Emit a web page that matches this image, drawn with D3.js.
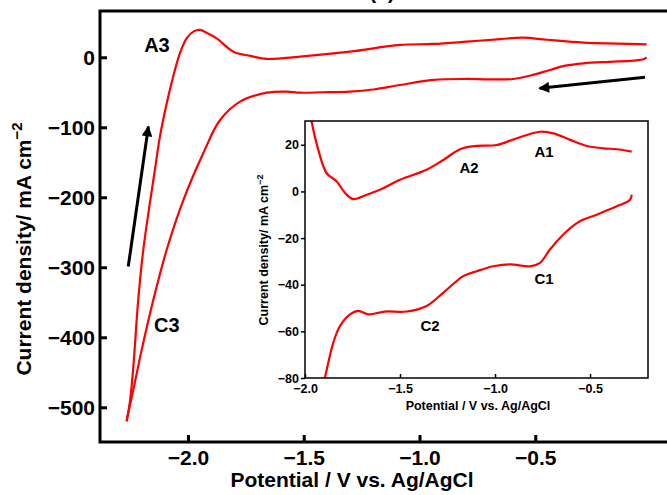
<!DOCTYPE html>
<html>
<head>
<meta charset="utf-8">
<script src="https://cdn.jsdelivr.net/npm/d3@7.9.0/dist/d3.min.js"></script>
<style>
  html, body { margin: 0; padding: 0; background: #fff; }
  svg { display: block; font-family: "Liberation Sans", Arial, sans-serif; font-weight: bold; }
</style>
</head>
<body>
<svg id="chart" width="667" height="495"></svg>
<script>
// main CV loop: cathodic sweep (lower branch) then anodic sweep (upper branch)
const mainCathodicV = [-0.019, -0.03, -0.076, -0.18, -0.292, -0.37, -0.436, -0.52, -0.595, -0.7, -0.796, -0.94, -1.084, -1.2, -1.3, -1.42, -1.516, -1.574, -1.66, -1.775, -1.862, -1.934, -2.02, -2.092, -2.15, -2.2, -2.236, -2.258, -2.265];
const mainCathodicJ = [0, -2.5, -4.9, -6.5, -8.6, -12, -18.1, -26, -31, -31.5, -31, -32.4, -39.6, -46, -49, -50, -50.6, -49, -50.6, -63.4, -90, -137, -204, -275, -347, -418, -475, -508, -520];
const mainAnodicV = [-2.265, -2.25, -2.236, -2.215, -2.193, -2.143, -2.121, -2.092, -2.064, -2.035, -2.006, -1.975, -1.948, -1.92, -1.876, -1.804, -1.73, -1.66, -1.516, -1.3, -1.084, -0.94, -0.796, -0.65, -0.552, -0.45, -0.292, -0.15, -0.019];
const mainAnodicJ = [-520, -490, -442, -347, -275, -161, -113, -66, -27.7, 5.7, 27, 37, 39, 35, 27, 8, 2, -2.4, 0.9, 8, 17.6, 19, 22.3, 26, 28, 25, 20.9, 19.5, 18.5];

// inset (zoom of the same loop)
const insetAnodicV = [-1.975, -1.965, -1.93, -1.886, -1.833, -1.789, -1.746, -1.675, -1.588, -1.5, -1.36, -1.272, -1.184, -1.096, -0.991, -0.886, -0.763, -0.693, -0.605, -0.518, -0.43, -0.36, -0.281];
const insetAnodicJ = [36, 29.9, 17.8, 7.8, 4.3, -0.7, -3.3, -1.4, 1.4, 5.0, 9.3, 13.5, 18.1, 19.5, 19.9, 22.8, 25.6, 24.9, 22.1, 19.5, 18.5, 18.1, 17.1];
const insetCathodicV = [-0.281, -0.289, -0.36, -0.465, -0.553, -0.623, -0.711, -0.763, -0.816, -0.921, -1.009, -1.096, -1.167, -1.272, -1.36, -1.465, -1.58, -1.665, -1.72, -1.763, -1.816, -1.851, -1.895, -1.91];
const insetCathodicJ = [-1.4, -3.6, -6.4, -10.0, -12.8, -17.1, -24.9, -30.6, -32.1, -31.3, -32.1, -34.2, -36.3, -43.4, -49.1, -51.5, -51.5, -52.7, -51.2, -52.7, -57.7, -64.8, -79.8, -85];

const mainXTicks = [-2.0, -1.5, -1.0, -0.5];
const mainYTicks = [0, -100, -200, -300, -400, -500];
const insetXTicks = [-2.0, -1.5, -1.0, -0.5];
const insetYTicks = [20, 0, -20, -40, -60, -80];

const mainLabels = [{t: 'A3', v: -2.134, j: 17.6}, {t: 'C3', v: -2.091, j: -382}];
const insetLabels = [{t: 'A1', v: -0.742, j: 17.2}, {t: 'A2', v: -1.137, j: 10.3}, {t: 'C1', v: -0.742, j: -37.3}, {t: 'C2', v: -1.342, j: -57.6}];
const arrows = [
  {from: [-2.258, -299], to: [-2.171, -99]},
  {from: [-0.026, -28.6], to: [-0.482, -44.3]}
];

const svg = d3.select('#chart');
const minus = s => String(s).replace('-', '\u2212');
const zip = (a, b) => a.map((v, i) => [v, b[i]]);

// ---- main axes ----
const M = {left: 100, right: 670, top: 11, bottom: 442};
const x = d3.scaleLinear().domain([-2.380, 0.082]).range([M.left, M.right]);
const y = d3.scaleLinear().domain([-549.6, 66.1]).range([M.bottom, M.top]);

svg.append('defs').append('clipPath').attr('id', 'mainClip')
  .append('rect').attr('x', M.left).attr('y', M.top).attr('width', M.right - M.left).attr('height', M.bottom - M.top);

const line = d3.line().x(d => x(d[0])).y(d => y(d[1])).curve(d3.curveCatmullRom.alpha(0.5));
const curves = svg.append('g').attr('clip-path', 'url(#mainClip)');
[zip(mainCathodicV, mainCathodicJ), zip(mainAnodicV, mainAnodicJ)].forEach(pts => {
  curves.append('path').attr('d', line(pts))
    .attr('fill', 'none').attr('stroke', '#ff0000').attr('stroke-width', 2.2).attr('stroke-linejoin', 'round');
});

// frame
svg.append('rect').attr('x', M.left).attr('y', M.top).attr('width', M.right - M.left).attr('height', M.bottom - M.top)
  .attr('fill', 'none').attr('stroke', '#000').attr('stroke-width', 3);

const xAxis = svg.append('g').attr('transform', `translate(0,${M.bottom})`)
  .call(d3.axisBottom(x).tickValues(mainXTicks).tickSizeInner(-7).tickSizeOuter(0).tickPadding(8).tickFormat(d => minus(d3.format('.1f')(d))));
const yAxis = svg.append('g').attr('transform', `translate(${M.left},0)`)
  .call(d3.axisLeft(y).tickValues(mainYTicks).tickSizeInner(-7).tickSizeOuter(0).tickPadding(5).tickFormat(d => minus(d)));
[xAxis, yAxis].forEach(g => {
  g.select('.domain').remove();
  g.selectAll('line').attr('stroke', '#000').attr('stroke-width', 3);
  g.selectAll('text').attr('font-size', 21).attr('font-weight', 'bold').attr('fill', '#000').attr('font-family', '"Liberation Sans", Arial, sans-serif');
});

svg.append('text').attr('x', (M.left + 664) / 2).attr('y', -1).attr('text-anchor', 'middle').attr('font-size', 21).text('(a)');
svg.append('text').attr('x', 352).attr('y', 487).attr('text-anchor', 'middle').attr('font-size', 21).text('Potential / V vs. Ag/AgCl');
const yl = svg.append('text').attr('transform', 'translate(31,249) rotate(-90)').attr('text-anchor', 'middle').attr('font-size', 21);
yl.append('tspan').text('Current density/ mA cm');
yl.append('tspan').attr('dy', -9).attr('font-size', 15).text('\u22122');

svg.selectAll('text.mlab').data(mainLabels).join('text').attr('class', 'mlab')
  .attr('x', d => x(d.v)).attr('y', d => y(d.j)).attr('text-anchor', 'middle').attr('dominant-baseline', 'central')
  .attr('font-size', 20).text(d => d.t);

// arrows
svg.append('defs').append('marker').attr('id', 'head').attr('viewBox', '0 0 10 10')
  .attr('refX', 9).attr('refY', 5).attr('markerWidth', 4.2).attr('markerHeight', 3.6).attr('orient', 'auto')
  .attr('markerUnits', 'strokeWidth')
  .append('path').attr('d', 'M0,0 L10,5 L0,10 z').attr('fill', '#000');
svg.selectAll('line.arrow').data(arrows).join('line').attr('class', 'arrow')
  .attr('x1', d => x(d.from[0])).attr('y1', d => y(d.from[1]))
  .attr('x2', d => x(d.to[0])).attr('y2', d => y(d.to[1]))
  .attr('stroke', '#000').attr('stroke-width', 3).attr('marker-end', 'url(#head)');

// ---- inset ----
const I = {left: 305, right: 648, top: 121, bottom: 378};
const xi = d3.scaleLinear().domain([-2.0, -0.195]).range([I.left, I.right]);
const yi = d3.scaleLinear().domain([-80, 30.2]).range([I.bottom, I.top]);

svg.append('rect').attr('x', I.left).attr('y', I.top).attr('width', I.right - I.left).attr('height', I.bottom - I.top).attr('fill', '#fff');
svg.select('defs').append('clipPath').attr('id', 'insetClip')
  .append('rect').attr('x', I.left).attr('y', I.top).attr('width', I.right - I.left).attr('height', I.bottom - I.top);
const lineI = d3.line().x(d => xi(d[0])).y(d => yi(d[1])).curve(d3.curveCatmullRom.alpha(0.5));
const icurves = svg.append('g').attr('clip-path', 'url(#insetClip)');
[zip(insetAnodicV, insetAnodicJ), zip(insetCathodicV, insetCathodicJ)].forEach(pts => {
  icurves.append('path').attr('d', lineI(pts))
    .attr('fill', 'none').attr('stroke', '#ff0000').attr('stroke-width', 2.2).attr('stroke-linejoin', 'round');
});
svg.append('rect').attr('x', I.left).attr('y', I.top).attr('width', I.right - I.left).attr('height', I.bottom - I.top)
  .attr('fill', 'none').attr('stroke', '#000').attr('stroke-width', 1.5);

const xAxisI = svg.append('g').attr('transform', `translate(0,${I.bottom})`)
  .call(d3.axisBottom(xi).tickValues(insetXTicks).tickSizeInner(-4).tickSizeOuter(0).tickPadding(6).tickFormat(d => minus(d3.format('.1f')(d))));
const yAxisI = svg.append('g').attr('transform', `translate(${I.left},0)`)
  .call(d3.axisLeft(yi).tickValues(insetYTicks).tickSizeInner(4).tickSizeOuter(0).tickPadding(2).tickFormat(d => minus(d)));
[xAxisI, yAxisI].forEach(g => {
  g.select('.domain').remove();
  g.selectAll('line').attr('stroke', '#000').attr('stroke-width', 1.5);
  g.selectAll('text').attr('font-size', 12.5).attr('font-weight', 'bold').attr('fill', '#000').attr('font-family', '"Liberation Sans", Arial, sans-serif');
});
svg.append('text').attr('x', 478).attr('y', 410).attr('text-anchor', 'middle').attr('font-size', 12.5).text('Potential / V vs. Ag/AgCl');
const yli = svg.append('text').attr('transform', 'translate(268,250) rotate(-90)').attr('text-anchor', 'middle').attr('font-size', 12.5);
yli.append('tspan').text('Current density/ mA cm');
yli.append('tspan').attr('dy', -5).attr('font-size', 9).text('\u22122');

svg.selectAll('text.ilab').data(insetLabels).join('text').attr('class', 'ilab')
  .attr('x', d => xi(d.v)).attr('y', d => yi(d.j)).attr('text-anchor', 'middle').attr('dominant-baseline', 'central')
  .attr('font-size', 15).text(d => d.t);
</script>
</body>
</html>
